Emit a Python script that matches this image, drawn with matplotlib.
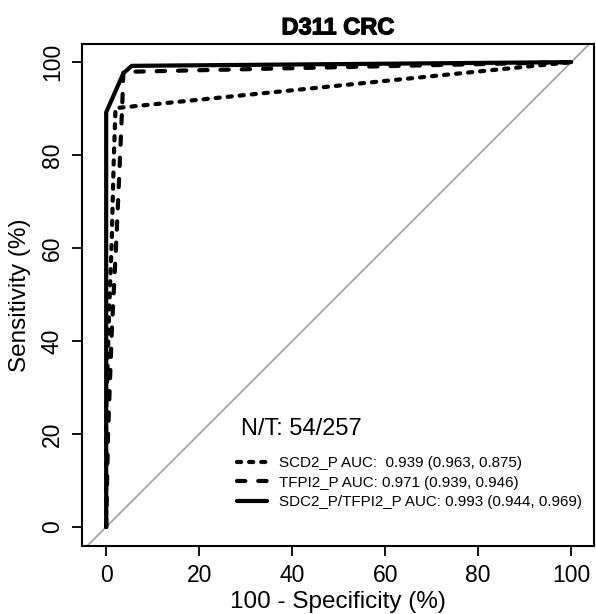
import matplotlib
matplotlib.use("Agg")
import matplotlib.pyplot as plt
import matplotlib.patheffects as pe

plt.rcParams['font.family'] = ['Liberation Sans', 'DejaVu Sans']

# ROC curves (100 - specificity, sensitivity) in %
scd2_fpr = [0, 0, 0.6, 1.2, 1.6, 2.0, 100]
scd2_tpr = [0, 25, 45, 62, 78, 90.1, 100]

tfpi2_fpr = [0, 0.4, 1.2, 2.2, 3.0, 3.5, 3.7, 100]
tfpi2_tpr = [0, 20, 42, 62, 80, 92, 97.9, 100]

combo_fpr = [0, 0, 3.7, 5.5, 100]
combo_tpr = [0, 89.2, 97.6, 99.2, 100]

nt_text = "N/T: 54/257"
legend_labels = [
    "SCD2_P AUC:  0.939 (0.963, 0.875)",
    "TFPI2_P AUC: 0.971 (0.939, 0.946)",
    "SDC2_P/TFPI2_P AUC: 0.993 (0.944, 0.969)",
]

fig = plt.figure(figsize=(5.96, 6.14), dpi=100)
ax = fig.add_axes([82 / 596, 1 - 546 / 614, 512 / 596, 502 / 614])

# chance diagonal
ax.plot([-10, 110], [-10, 110], color="#a0a0a0", lw=1.2, zorder=1)

l1, = ax.plot(scd2_fpr, scd2_tpr, color="black", lw=3, linestyle=(0, (1.0, 1.9)),
              dash_capstyle="round")
l2, = ax.plot(tfpi2_fpr, tfpi2_tpr, color="black", lw=3, linestyle=(0, (2.0, 3.1)),
              dash_capstyle="round")
l3, = ax.plot(combo_fpr, combo_tpr, color="black", lw=3, solid_capstyle="round")

ax.set_xlim(-5.2, 104.9)
ax.set_ylim(-4.1, 103.9)

ax.set_xticks([0, 20, 40, 60, 80, 100])
ax.set_yticks([0, 20, 40, 60, 80, 100])
ax.tick_params(axis="both", labelsize=16.5, length=7, width=1.3, pad=6)
for lab in ax.get_yticklabels():
    lab.set_rotation(90)
    lab.set_va("center")
for sp in ax.spines.values():
    sp.set_linewidth(1.5)

ax.set_xlabel("100 - Specificity (%)", fontsize=17.5, labelpad=3)
ax.set_ylabel("Sensitivity (%)", fontsize=17.5, labelpad=7)
title = ax.set_title("D311 CRC", fontsize=17, fontweight="heavy", pad=7)
title.set_path_effects([pe.withStroke(linewidth=0.9, foreground="black")])

ax.text(29.0, 21.0, nt_text, fontsize=17, va="center")
leg = ax.legend([l1, l2, l3], legend_labels, loc="lower left",
                bbox_to_anchor=(0.276, 0.046), frameon=False, fontsize=10.9,
                handlelength=2.0, handletextpad=0.8, labelspacing=0.37)

fig.savefig("out.png", dpi=100)
